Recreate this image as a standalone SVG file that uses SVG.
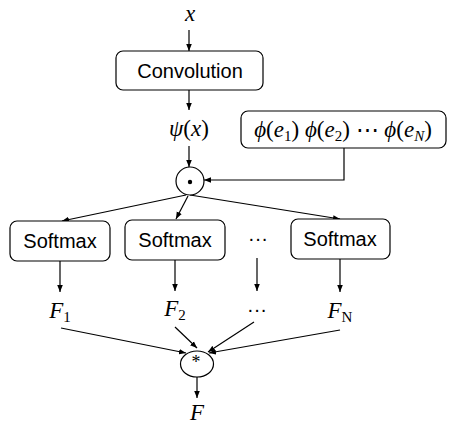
<svg xmlns="http://www.w3.org/2000/svg" width="456" height="426" viewBox="0 0 456 426">
<defs>
<marker id="ah" viewBox="0 0 10 10" refX="10" refY="5" markerWidth="7" markerHeight="7" markerUnits="userSpaceOnUse" orient="auto">
<path d="M0,1 L10,5 L0,9 z" fill="#000"/>
</marker>
</defs>
<style>
.box{fill:#fff;stroke:#000;stroke-width:1.2}
.lbl{font-family:"Liberation Sans",Arial,sans-serif;font-size:20px;text-anchor:middle;fill:#000}
.m{font-family:"Liberation Serif","DejaVu Serif",serif;font-style:italic;font-size:23px;fill:#000;text-anchor:middle}
.sub{font-size:15px}
.up{font-style:normal}
.ln{fill:none;stroke:#000;stroke-width:1.2}
.ar{fill:none;stroke:#000;stroke-width:1.2;marker-end:url(#ah)}
</style>
<rect width="456" height="426" fill="#fff"/>
<g id="connectors">
<line class="ar" x1="189" y1="30" x2="189" y2="51"/>
<line class="ar" x1="189" y1="90" x2="189" y2="110"/>
<line class="ar" x1="189" y1="146" x2="189" y2="167"/>
<polyline class="ar" points="344,148 344,180 204,180"/>
<line class="ar" x1="186" y1="195" x2="62" y2="221"/>
<line class="ar" x1="188" y1="196" x2="176" y2="219"/>
<line class="ar" x1="190" y1="195" x2="340" y2="219"/>
<line class="ar" x1="60" y1="261" x2="60" y2="292"/>
<line class="ar" x1="175" y1="260" x2="175" y2="291"/>
<line class="ar" x1="257" y1="258" x2="257" y2="291"/>
<line class="ar" x1="340" y1="259" x2="340" y2="292"/>
<line class="ar" x1="61" y1="328" x2="186" y2="353"/>
<line class="ar" x1="175" y1="327" x2="197" y2="348"/>
<line class="ar" x1="254" y1="322" x2="208" y2="352"/>
<line class="ar" x1="340" y1="330" x2="209" y2="353"/>
<line class="ar" x1="197" y1="377" x2="197" y2="398"/>
</g>
<g id="x"><text class="m" x="190" y="21">x</text></g>
<g id="conv"><rect class="box" x="116" y="51" width="147" height="39" rx="7"/><text class="lbl" x="190" y="78">Convolution</text></g>
<g id="psi"><text class="m" x="189" y="136">ψ<tspan class="up">(</tspan>x<tspan class="up">)</tspan></text></g>
<g id="phi"><rect class="box" x="241" y="111" width="205" height="37" rx="7"/>
<text class="m" x="343" y="137">ϕ<tspan class="up">(</tspan>e<tspan class="sub up" dy="4">1</tspan><tspan class="up" dy="-4">)</tspan> ϕ<tspan class="up">(</tspan>e<tspan class="sub up" dy="4">2</tspan><tspan class="up" dy="-4">) ⋯ </tspan>ϕ<tspan class="up">(</tspan>e<tspan class="sub" dy="4">N</tspan><tspan class="up" dy="-4">)</tspan></text></g>
<g id="dot"><circle class="box" cx="190" cy="181" r="14"/><circle cx="190" cy="182" r="2.2" fill="#000"/></g>
<g id="sm1"><rect class="box" x="10" y="221" width="100" height="40" rx="7"/><text class="lbl" x="60" y="248">Softmax</text></g>
<g id="sm2"><rect class="box" x="125" y="220" width="100" height="40" rx="7"/><text class="lbl" x="175" y="247">Softmax</text></g>
<g id="dots1"><text class="lbl" x="258" y="245">···</text></g>
<g id="sm3"><rect class="box" x="291" y="219" width="99" height="40" rx="7"/><text class="lbl" x="340" y="246">Softmax</text></g>
<g id="F1"><text class="m" x="60" y="318">F<tspan class="sub up" dy="4">1</tspan></text></g>
<g id="F2"><text class="m" x="175" y="316">F<tspan class="sub up" dy="4">2</tspan></text></g>
<g id="dots2"><text class="lbl" x="257" y="316">···</text></g>
<g id="FN"><text class="m" x="340" y="318">F<tspan class="sub up" dy="4">N</tspan></text></g>
<g id="star"><ellipse class="box" cx="197" cy="364" rx="16.5" ry="13"/><text class="m up" x="196" y="368" style="font-size:18px">*</text></g>
<g id="F"><text class="m" x="197" y="420">F</text></g>
</svg>
